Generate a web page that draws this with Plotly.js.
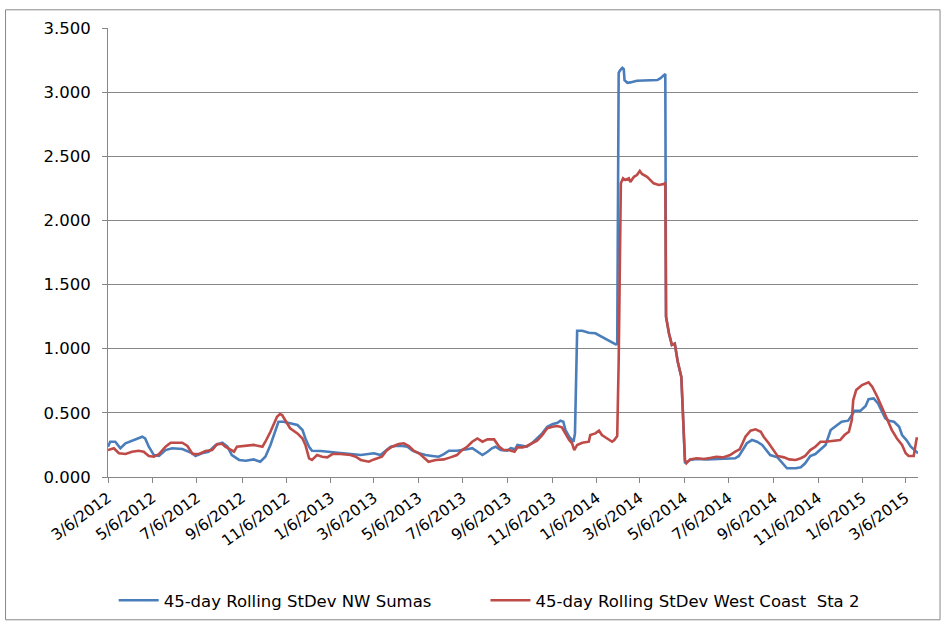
<!DOCTYPE html>
<html>
<head>
<meta charset="utf-8">
<script src="https://cdn.plot.ly/plotly-3.0.1.min.js"></script>
<style>html,body{margin:0;padding:0;background:#fff;}#chart{width:946px;height:623px;}</style>
</head>
<body>
<div id="chart"></div>
<script>
const seriesNames = ['45-day Rolling StDev NW Sumas', '45-day Rolling StDev West Coast  Sta 2'];

const sumasDates = ['2012-03-06','2012-03-09','2012-03-16','2012-03-23','2012-03-30','2012-04-08','2012-04-22','2012-04-26','2012-05-01','2012-05-08','2012-05-15','2012-05-24','2012-06-02','2012-06-16','2012-06-30','2012-07-04','2012-07-13','2012-07-22','2012-08-01','2012-08-10','2012-08-17','2012-08-23','2012-09-02','2012-09-11','2012-09-22','2012-10-01','2012-10-08','2012-10-15','2012-10-22','2012-10-26','2012-11-02','2012-11-11','2012-11-21','2012-11-28','2012-12-02','2012-12-07','2012-12-11','2012-12-23','2013-01-05','2013-01-19','2013-02-02','2013-02-16','2013-02-25','2013-03-06','2013-03-15','2013-03-22','2013-03-29','2013-04-05','2013-04-14','2013-04-21','2013-04-28','2013-05-07','2013-05-16','2013-05-25','2013-06-03','2013-06-10','2013-06-17','2013-06-28','2013-07-07','2013-07-14','2013-07-19','2013-07-26','2013-08-02','2013-08-09','2013-08-15','2013-08-20','2013-08-27','2013-09-05','2013-09-10','2013-09-16','2013-09-19','2013-09-26','2013-10-02','2013-10-09','2013-10-16','2013-10-23','2013-10-30','2013-11-06','2013-11-13','2013-11-17','2013-11-21','2013-11-24','2013-11-29','2013-12-05','2013-12-07','2013-12-09','2013-12-10','2013-12-17','2013-12-26','2014-01-04','2014-01-11','2014-01-20','2014-01-27','2014-02-01','2014-02-03','2014-02-05','2014-02-07','2014-02-10','2014-02-12','2014-02-13','2014-02-17','2014-02-21','2014-03-02','2014-03-09','2014-03-16','2014-03-30','2014-04-03','2014-04-10','2014-04-11','2014-04-15','2014-04-19','2014-04-23','2014-04-27','2014-05-02','2014-05-04','2014-05-07','2014-05-14','2014-05-23','2014-06-06','2014-06-19','2014-07-04','2014-07-15','2014-07-20','2014-07-25','2014-07-31','2014-08-07','2014-08-14','2014-08-21','2014-08-26','2014-09-01','2014-09-11','2014-09-18','2014-09-24','2014-10-06','2014-10-13','2014-10-19','2014-10-26','2014-11-02','2014-11-09','2014-11-16','2014-11-23','2014-12-02','2014-12-08','2014-12-17','2014-12-22','2014-12-26','2015-01-03','2015-01-10','2015-01-14','2015-01-21','2015-01-27','2015-01-30','2015-02-06','2015-02-11','2015-02-18','2015-02-25','2015-03-01','2015-03-07','2015-03-13','2015-03-17','2015-03-23'];
const sumasValues = [0.236,0.275,0.275,0.224,0.263,0.283,0.314,0.300,0.236,0.171,0.164,0.210,0.224,0.218,0.185,0.164,0.185,0.197,0.250,0.267,0.236,0.171,0.133,0.127,0.137,0.119,0.158,0.250,0.366,0.431,0.431,0.418,0.405,0.366,0.300,0.236,0.205,0.203,0.197,0.185,0.179,0.171,0.179,0.185,0.171,0.205,0.236,0.242,0.242,0.236,0.205,0.185,0.171,0.164,0.158,0.179,0.205,0.205,0.210,0.218,0.224,0.197,0.171,0.197,0.224,0.236,0.210,0.205,0.224,0.216,0.250,0.244,0.236,0.263,0.300,0.340,0.392,0.411,0.423,0.439,0.431,0.366,0.314,0.275,0.340,0.780,1.140,1.140,1.125,1.120,1.099,1.073,1.055,1.034,1.037,3.150,3.170,3.190,3.180,3.094,3.073,3.076,3.089,3.089,3.094,3.094,3.107,3.141,1.250,1.120,1.030,1.040,0.900,0.780,0.520,0.107,0.133,0.140,0.137,0.140,0.146,0.146,0.164,0.210,0.263,0.288,0.275,0.250,0.210,0.171,0.153,0.107,0.068,0.068,0.076,0.107,0.164,0.179,0.216,0.250,0.366,0.405,0.431,0.439,0.483,0.517,0.517,0.553,0.606,0.613,0.574,0.535,0.457,0.439,0.431,0.392,0.327,0.288,0.236,0.216,0.185];

const westCoastDates = ['2012-03-06','2012-03-14','2012-03-21','2012-03-30','2012-04-08','2012-04-17','2012-04-24','2012-05-01','2012-05-08','2012-05-15','2012-05-24','2012-05-31','2012-06-16','2012-06-23','2012-06-30','2012-07-09','2012-07-18','2012-07-27','2012-08-03','2012-08-10','2012-08-14','2012-08-21','2012-08-26','2012-08-30','2012-09-11','2012-09-22','2012-09-29','2012-10-04','2012-10-08','2012-10-15','2012-10-24','2012-10-28','2012-10-31','2012-11-05','2012-11-11','2012-11-21','2012-11-28','2012-12-02','2012-12-07','2012-12-11','2012-12-18','2012-12-25','2013-01-01','2013-01-08','2013-01-19','2013-02-02','2013-02-09','2013-02-16','2013-02-27','2013-03-06','2013-03-17','2013-03-24','2013-03-31','2013-04-09','2013-04-16','2013-04-23','2013-04-30','2013-05-07','2013-05-14','2013-05-20','2013-05-30','2013-06-10','2013-06-19','2013-06-28','2013-07-05','2013-07-12','2013-07-19','2013-07-26','2013-08-02','2013-08-09','2013-08-18','2013-08-25','2013-08-31','2013-09-07','2013-09-15','2013-09-19','2013-09-26','2013-10-02','2013-10-09','2013-10-16','2013-10-23','2013-10-30','2013-11-06','2013-11-13','2013-11-19','2013-11-24','2013-11-29','2013-12-03','2013-12-06','2013-12-10','2013-12-17','2013-12-26','2013-12-28','2014-01-04','2014-01-09','2014-01-13','2014-01-20','2014-01-27','2014-01-30','2014-02-03','2014-02-05','2014-02-07','2014-02-08','2014-02-11','2014-02-14','2014-02-19','2014-02-21','2014-02-26','2014-03-02','2014-03-06','2014-03-09','2014-03-16','2014-03-21','2014-03-25','2014-04-01','2014-04-08','2014-04-10','2014-04-11','2014-04-15','2014-04-19','2014-04-23','2014-04-27','2014-05-02','2014-05-04','2014-05-07','2014-05-09','2014-05-14','2014-05-23','2014-06-02','2014-06-12','2014-06-19','2014-06-28','2014-07-08','2014-07-15','2014-07-21','2014-07-25','2014-07-29','2014-08-05','2014-08-12','2014-08-19','2014-08-23','2014-08-30','2014-09-06','2014-09-11','2014-09-20','2014-09-27','2014-10-06','2014-10-13','2014-10-19','2014-10-26','2014-11-02','2014-11-09','2014-11-16','2014-11-27','2014-12-06','2014-12-12','2014-12-18','2014-12-22','2014-12-24','2014-12-28','2015-01-05','2015-01-14','2015-01-19','2015-01-26','2015-02-02','2015-02-09','2015-02-15','2015-02-22','2015-03-01','2015-03-06','2015-03-10','2015-03-17','2015-03-19','2015-03-21','2015-03-23'];
const westCoastValues = [0.210,0.224,0.185,0.179,0.197,0.205,0.197,0.164,0.158,0.179,0.236,0.267,0.267,0.242,0.179,0.179,0.203,0.210,0.257,0.257,0.236,0.210,0.197,0.236,0.242,0.250,0.242,0.236,0.275,0.353,0.470,0.491,0.483,0.431,0.380,0.340,0.300,0.250,0.146,0.133,0.171,0.158,0.153,0.179,0.179,0.171,0.158,0.133,0.119,0.137,0.158,0.210,0.236,0.257,0.263,0.242,0.203,0.185,0.146,0.119,0.133,0.137,0.153,0.171,0.210,0.236,0.275,0.300,0.275,0.293,0.293,0.236,0.210,0.210,0.197,0.231,0.231,0.242,0.263,0.283,0.327,0.380,0.392,0.397,0.387,0.340,0.288,0.263,0.210,0.250,0.267,0.275,0.327,0.340,0.361,0.327,0.300,0.275,0.288,0.320,0.900,2.237,2.289,2.328,2.315,2.328,2.300,2.340,2.354,2.385,2.362,2.340,2.309,2.289,2.276,2.284,2.294,1.250,1.120,1.030,1.040,0.900,0.780,0.520,0.133,0.107,0.137,0.146,0.140,0.150,0.158,0.153,0.171,0.197,0.216,0.263,0.314,0.361,0.372,0.353,0.314,0.263,0.210,0.164,0.153,0.137,0.133,0.146,0.164,0.210,0.236,0.275,0.275,0.283,0.288,0.327,0.353,0.444,0.600,0.678,0.717,0.738,0.704,0.626,0.535,0.431,0.366,0.300,0.250,0.185,0.164,0.164,0.236,0.300,0.300];

const tickDates = ['2012-03-06','2012-05-06','2012-07-06','2012-09-06','2012-11-06','2013-01-06','2013-03-06','2013-05-06','2013-07-06','2013-09-06','2013-11-06','2014-01-06','2014-03-06','2014-05-06','2014-07-06','2014-09-06','2014-11-06','2015-01-06','2015-03-06'];
const tickLabels = ['3/6/2012','5/6/2012','7/6/2012','9/6/2012','11/6/2012','1/6/2013','3/6/2013','5/6/2013','7/6/2013','9/6/2013','11/6/2013','1/6/2014','3/6/2014','5/6/2014','7/6/2014','9/6/2014','11/6/2014','1/6/2015','3/6/2015'];

const font = 'DejaVu Sans, Verdana, sans-serif';
const gridColor = '#878787';

const traces = [
  {x: sumasDates, y: sumasValues, name: seriesNames[0], type: 'scatter', mode: 'lines',
   line: {color: '#4A7EBB', width: 2.6}, legend: 'legend'},
  {x: westCoastDates, y: westCoastValues, name: seriesNames[1], type: 'scatter', mode: 'lines',
   line: {color: '#BE4B48', width: 2.6}, legend: 'legend2'}
];

const legendStyle = (x) => ({x: x, xanchor: 'left', y: -0.275, yanchor: 'middle', orientation: 'h',
  bgcolor: 'rgba(0,0,0,0)', borderwidth: 0, itemwidth: 40,
  font: {family: font, size: 16.5, color: '#000'}});

const layout = {
  width: 946, height: 623,
  margin: {l: 108, r: 28, t: 28, b: 146, pad: 0, autoexpand: false},
  paper_bgcolor: '#ffffff', plot_bgcolor: '#ffffff',
  font: {family: font, size: 15, color: '#000'},
  showlegend: true,
  legend: legendStyle(0.007),
  legend2: legendStyle(0.466),
  xaxis: {
    type: 'date', range: ['2012-03-06', '2015-03-22 21:00'], automargin: false,
    tickmode: 'array', tickvals: tickDates, ticktext: tickLabels, tickangle: -36,
    ticks: 'outside', ticklen: 5, tickcolor: gridColor, tickwidth: 1,
    showline: true, linecolor: gridColor, linewidth: 1,
    showgrid: false, zeroline: false,
    tickfont: {family: font, size: 15.5, color: '#000'}
  },
  yaxis: {
    range: [0, 3.5], dtick: 0.5, tick0: 0, tickformat: '.3f', automargin: false,
    ticks: 'outside', ticklen: 5, tickcolor: gridColor, tickwidth: 1,
    showline: true, linecolor: gridColor, linewidth: 1,
    showgrid: true, gridcolor: gridColor, gridwidth: 1, zeroline: false,
    ticklabelstandoff: 8,
    tickfont: {family: font, size: 16.5, color: '#000'}
  },
  shapes: [
    {type: 'rect', xref: 'paper', yref: 'paper', x0: -0.1265, x1: 1.0272, y0: -0.318, y1: 1.0405,
     line: {color: '#888888', width: 1}, fillcolor: 'rgba(0,0,0,0)', layer: 'below'}
  ]
};

Plotly.newPlot('chart', traces, layout, {displayModeBar: false, staticPlot: true});
</script>
</body>
</html>
